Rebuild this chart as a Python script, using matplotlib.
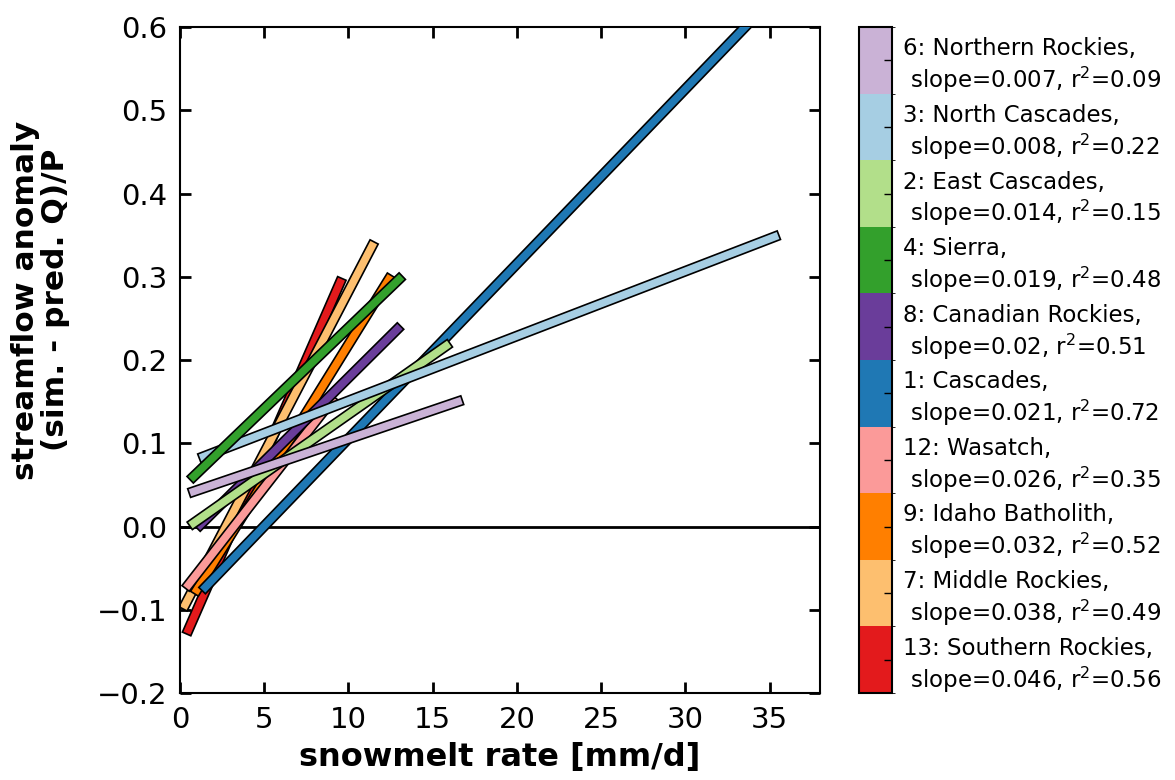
import numpy as np
import matplotlib
matplotlib.use('Agg')
import matplotlib.pyplot as plt
import matplotlib.patheffects as pe
from matplotlib.colors import ListedColormap, BoundaryNorm
from matplotlib.cm import ScalarMappable

# regions, top of the colorbar first
regions = ['6: Northern Rockies', '3: North Cascades', '2: East Cascades', '4: Sierra',
           '8: Canadian Rockies', '1: Cascades', '12: Wasatch', '9: Idaho Batholith',
           '7: Middle Rockies', '13: Southern Rockies']
slopes = [0.007, 0.008, 0.014, 0.019, 0.02, 0.021, 0.026, 0.032, 0.038, 0.046]
r2 = [0.09, 0.22, 0.15, 0.48, 0.51, 0.72, 0.35, 0.52, 0.49, 0.56]
colors = ['#cab2d6', '#a6cee3', '#b2df8a', '#33a02c', '#6a3d9a',
          '#1f78b4', '#fb9a99', '#ff7f00', '#fdbf6f', '#e31a1c']

# fitted line end points
x_start = [0.8, 1.4, 0.8, 0.8, 1.2, 1.5, 0.5, 1.0, 0.3, 0.5]
y_start = [0.042, 0.084, 0.004, 0.060, 0.002, -0.073, -0.070, -0.076, -0.094, -0.124]
x_end = [16.5, 35.3, 15.8, 13.0, 12.9, 34.5, 9.0, 12.4, 11.4, 9.5]
y_end = [0.150, 0.348, 0.217, 0.297, 0.237, 0.620, 0.151, 0.297, 0.337, 0.293]
# drawing order seen in the picture (higher is on top)
order = [10, 8, 7, 9, 5, 6, 4, 3, 2, 1]

fig = plt.figure(figsize=(11.75, 7.8), dpi=100)
ax = fig.add_axes([0.1532, 0.1115, 0.5447, 0.8538])

ax.axhline(0, color='k', lw=2, zorder=1)
for i in range(len(regions)):
    ax.plot([x_start[i], x_end[i]], [y_start[i], y_end[i]], color=colors[i], lw=5.4,
            solid_capstyle='projecting', zorder=2 + order[i] * 0.1,
            path_effects=[pe.Stroke(linewidth=7.8, foreground='k', capstyle='projecting'),
                          pe.Normal()])

ax.set_xlim(0, 38)
ax.set_ylim(-0.2, 0.6)
ax.set_xticks(np.arange(0, 36, 5))
ax.set_yticks(np.arange(-0.2, 0.61, 0.1))
ax.yaxis.set_major_formatter(matplotlib.ticker.FuncFormatter(
    lambda v, p: ('%.1f' % v).replace('-', '\u2212')))
ax.tick_params(direction='in', length=8, width=2, top=True, right=True,
               labelsize=21, pad=9)
for s in ax.spines.values():
    s.set_linewidth(1.5)
ax.set_xlabel('snowmelt rate [mm/d]', fontsize=23, fontweight='bold', labelpad=6)
ax.set_ylabel('streamflow anomaly\n(sim. - pred. Q)/P', fontsize=22.5,
              fontweight='bold', linespacing=1.05)
ax.yaxis.set_label_coords(-0.172, 0.59)

# discrete colorbar, bottom to top
n = len(regions)
cmap = ListedColormap(colors[::-1])
norm = BoundaryNorm(np.arange(n + 1), n)
cax = fig.add_axes([0.7311, 0.1115, 0.0281, 0.8538])
cb = fig.colorbar(ScalarMappable(norm=norm, cmap=cmap), cax=cax,
                  ticks=np.arange(n) + 0.5)
labels = ['%s,\n slope=%s, r$^2$=%s' % (regions[i], slopes[i], r2[i]) for i in range(n)]
cb.ax.set_yticklabels(labels[::-1])
cb.ax.tick_params(direction='in', length=6, width=1, labelsize=16.5, pad=8)
cb.outline.set_linewidth(1.5)

fig.savefig('out.png', dpi=100)
